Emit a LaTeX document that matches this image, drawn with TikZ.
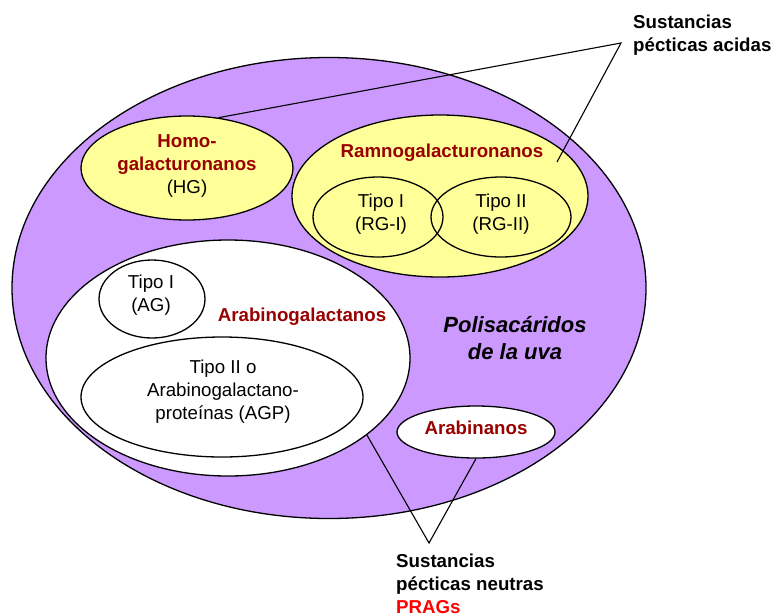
\documentclass[tikz,border=0pt]{standalone}
\usepackage{fontspec}
\setmainfont{Liberation Sans}
\usetikzlibrary{shapes.geometric}
\definecolor{purp}{HTML}{CC99FF}
\definecolor{yel}{HTML}{FFFF99}
\definecolor{dred}{HTML}{990000}
\begin{document}
\begin{tikzpicture}[x=1pt,y=-1pt,
  oval/.style={ellipse, draw=black, line width=1.3pt, inner sep=0},
  txt/.style={font=\fontsize{18.7}{23}\selectfont, align=center, inner sep=0},
  btxt/.style={txt, font=\fontsize{18.7}{23}\selectfont\bfseries},
  conn/.style={line width=1.1pt}]
\useasboundingbox (0,0) rectangle (776,614);
% ellipses
\node[oval, fill=purp, minimum width=634, minimum height=461] (poly) at (329,288) {};
\node[oval, fill=yel, minimum width=212, minimum height=104] (hg) at (187,168) {};
\node[oval, fill=yel, minimum width=296, minimum height=162] (rg) at (440,196) {};
\node[oval, minimum width=130, minimum height=80] (rg1) at (378,217) {};
\node[oval, minimum width=140, minimum height=80] (rg2) at (501,217) {};
\node[oval, fill=white, minimum width=364, minimum height=236] (ag) at (228,358) {};
\node[oval, fill=white, minimum width=106, minimum height=78] (ag1) at (152,299) {};
\node[oval, fill=white, minimum width=282, minimum height=120] (agp) at (222,397) {};
\node[oval, fill=white, minimum width=158, minimum height=52] (arn) at (476,432) {};
% texts
\node[btxt, text=dred] (thg) at (187,166) {Homo-\\galacturonanos\\\mdseries\color{black}(HG)};
\node[btxt, text=dred] (trg) at (442,153) {Ramnogalacturonanos};
\node[txt] (trg1) at (381,214) {Tipo I\\(RG-I)};
\node[txt] (trg2) at (501,214) {Tipo II\\(RG-II)};
\node[txt] (tag1) at (151,295) {Tipo I\\(AG)};
\node[btxt, text=dred] (tag) at (302,317) {Arabinogalactanos};
\node[txt] (tagp) at (223,392) {Tipo II o\\Arabinogalactano-\\proteínas (AGP)};
\node[btxt, text=dred] (tarn) at (476,428) {Arabinanos};
\node[txt, font=\fontsize{22}{27}\selectfont\bfseries\itshape] (tpoly) at (515,338) {Polisacáridos\\de la uva};
\node[btxt, align=left, anchor=west] (tacid) at (633,35) {Sustancias\\pécticas acidas};
\node[btxt, align=left, anchor=west] (tneu) at (396,584) {Sustancias\\pécticas neutras\\\textcolor{red}{PRAGs}};
% connectors
\coordinate (apexA) at (621,43);
\coordinate (endA) at (557,162);
\coordinate (apexN) at (429,543);
\draw[conn] (hg.58) -- (apexA) -- (endA);
\draw[conn] (ag.-29) -- (apexN) -- (arn.south);
\end{tikzpicture}
\end{document}
